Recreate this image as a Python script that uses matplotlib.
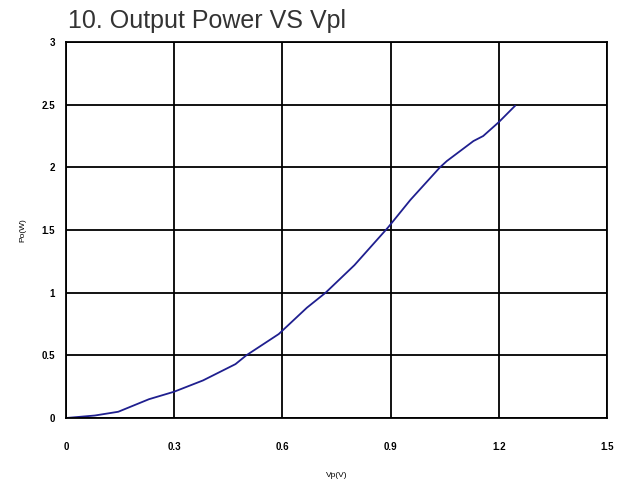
import matplotlib
matplotlib.use("Agg")
import matplotlib.pyplot as plt

# Output power vs Vpl
vpl = [0.0, 0.04, 0.08, 0.145, 0.23, 0.30, 0.38, 0.47, 0.50, 0.59, 0.668,
       0.72, 0.80, 0.893, 0.955, 1.037, 1.056, 1.13, 1.157, 1.20, 1.245]
po = [0.0, 0.01, 0.02, 0.05, 0.15, 0.21, 0.30, 0.43, 0.50, 0.67, 0.88,
      1.00, 1.22, 1.52, 1.74, 2.00, 2.05, 2.21, 2.25, 2.36, 2.49]

x_ticks = [0, 0.3, 0.6, 0.9, 1.2, 1.5]
x_labels = ["0", "0.3", "0.6", "0.9", "1.2", "1.5"]
y_ticks = [0, 0.5, 1, 1.5, 2, 2.5, 3]
y_labels = ["0", "0.5", "1", "1.5", "2", "2.5", "3"]

plt.rcParams["font.family"] = ["Liberation Sans", "DejaVu Sans"]

fig = plt.figure(figsize=(6.25, 4.88), dpi=100)
ax = fig.add_axes([0.1056, 0.1434, 0.8654, 0.7705])

ax.plot(vpl, po, color="#1f1f8f", linewidth=1.3)

ax.set_xlim(0, 1.5)
ax.set_ylim(0, 3)
ax.set_xticks(x_ticks)
ax.set_xticklabels(x_labels, fontsize=7, fontweight="bold")
ax.set_yticks(y_ticks)
ax.set_yticklabels(y_labels, fontsize=7, fontweight="bold")
ax.tick_params(length=0, pad=8)
ax.tick_params(axis="x", pad=17)
ax.grid(True, color="black", linewidth=1.3)
ax.set_axisbelow(True)
for s in ax.spines.values():
    s.set_color("black")
    s.set_linewidth(1.3)

ax.set_xlabel("Vp(V)", fontsize=6, labelpad=15)
ax.set_ylabel("Po(W)", fontsize=6, labelpad=11)

fig.text(0.109, 0.957, "10. Output Power VS Vpl", fontsize=18,
         color="#333333", va="center", ha="left")

fig.savefig("out.png", dpi=100)
